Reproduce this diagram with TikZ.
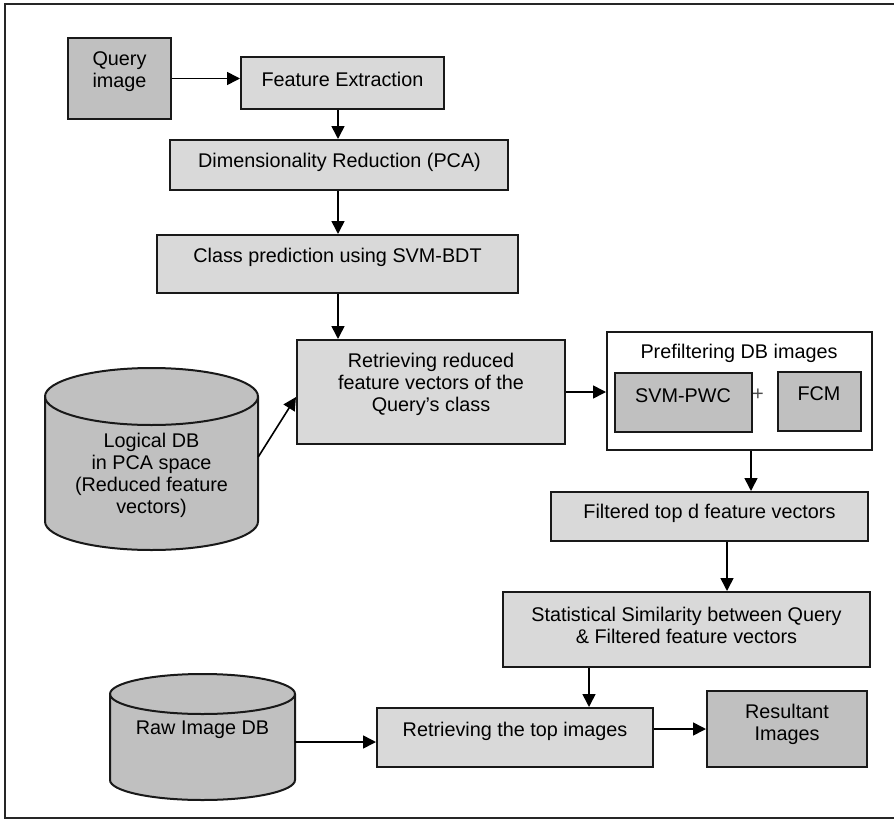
\documentclass[tikz,border=0pt]{standalone}
\usepackage{fontspec}
\setmainfont{Liberation Sans}
\usetikzlibrary{arrows.meta}
\definecolor{darkfill}{HTML}{C0C0C0}
\definecolor{lightfill}{HTML}{D9D9D9}
\begin{document}
\begin{tikzpicture}[x=1pt,y=-1pt,
  box/.style={draw=black!90, line width=2pt, inner sep=0pt, rectangle},
  lightbox/.style={box, fill=lightfill},
  darkbox/.style={box, fill=darkfill},
  whitebox/.style={box, fill=white},
  dbarea/.style={inner sep=0pt, rectangle},
  txt/.style={inner sep=0pt, align=center, font=\fontsize{19.8}{22}\selectfont},
  conn/.style={line width=1.6pt, -{Triangle[length=13pt,width=13pt]}},
  cyl/.style={draw=black!90, line width=2pt, fill=darkfill}
]
\useasboundingbox (0,0) rectangle (894,819);
\draw[line width=2pt, black!85] (5,4) rectangle (905,818);

% boxes
\node[darkbox, minimum width=103pt, minimum height=81pt] (query) at (119.5,78.5) {};
\node[lightbox, minimum width=203pt, minimum height=52pt] (fe) at (342.5,83) {};
\node[lightbox, minimum width=338pt, minimum height=50pt] (dr) at (339,165) {};
\node[lightbox, minimum width=361pt, minimum height=58pt] (cp) at (337.5,264) {};
\node[lightbox, minimum width=268pt, minimum height=104pt] (retr) at (431,392) {};
\node[whitebox, minimum width=265pt, minimum height=118pt] (pre) at (739.5,391) {};
\node[darkbox, minimum width=137pt, minimum height=59pt] (svm) at (683.5,402.5) {};
\node[darkbox, minimum width=83pt, minimum height=59pt] (fcm) at (819.5,401.5) {};
\node[lightbox, minimum width=317pt, minimum height=49pt] (filt) at (709.5,516.5) {};
\node[lightbox, minimum width=367pt, minimum height=75pt] (stat) at (686.5,629.5) {};
\node[lightbox, minimum width=276pt, minimum height=59pt] (rtop) at (515,737.5) {};
\node[darkbox, minimum width=160pt, minimum height=76pt] (res) at (787,729) {};

% database areas
\node[dbarea, minimum width=213pt, minimum height=182pt] (ldb) at (151.5,459) {};
\node[dbarea, minimum width=185pt, minimum height=126pt] (rawdb) at (202.5,737) {};

% cylinders
\filldraw[cyl] (45,396.5) -- (45,521.5) arc[start angle=180,end angle=360,x radius=106.5pt,y radius=28.5pt]
  -- (258,396.5) arc[start angle=0,end angle=180,x radius=106.5pt,y radius=28.5pt] -- cycle;
\draw[cyl, fill=none] (45,396.5) arc[start angle=180,end angle=360,x radius=106.5pt,y radius=28.5pt];
\filldraw[cyl] (110,694) -- (110,780) arc[start angle=180,end angle=360,x radius=92.5pt,y radius=20pt]
  -- (295,694) arc[start angle=0,end angle=180,x radius=92.5pt,y radius=20pt] -- cycle;
\draw[cyl, fill=none] (110,694) arc[start angle=180,end angle=360,x radius=92.5pt,y radius=20pt];

% texts
\node[txt] (tquery) at (119.5,71.5) {Query\\image};
\node[txt] (tfe) at (342.5,79) {Feature Extraction};
\node[txt] (tdr) at (339.5,162) {Dimensionality Reduction (PCA)};
\node[txt] (tcp) at (337.5,257) {Class prediction using SVM-BDT};
\node[txt] (tretr) at (431,384.5) {Retrieving reduced\\feature vectors of the\\Query’s class};
\node[txt] (tpre) at (739,353) {Prefiltering DB images};
\node[txt] (tsvm) at (683,396) {SVM-PWC};
\node[txt] (tfcm) at (819,394) {FCM};
\node[txt, font=\fontsize{20}{22}\selectfont\color{black!70}] (tplus) at (758,395) {+};
\node[txt] (tfilt) at (709.5,513) {Filtered top d feature vectors};
\node[txt] (tstat) at (686.5,625.5) {Statistical Similarity between Query\\\& Filtered feature vectors};
\node[txt] (trtop) at (515,731) {Retrieving the top images};
\node[txt] (tres) at (787,724) {Resultant\\Images};
\node[txt] (traw) at (202.5,730) {Raw Image DB};
\node[txt] (tldb) at (151.5,475.5) {Logical DB\\in PCA space\\(Reduced feature\\vectors)};

% x references
\coordinate (xa) at (338,0);
\coordinate (xb) at (751,0);
\coordinate (xc) at (727,0);
\coordinate (xd) at (589,0);

% connectors
\draw[conn] (query.east) -- (query.east -| fe.west);
\draw[conn] (fe.south -| xa) -- (dr.north -| xa);
\draw[conn] (dr.south -| xa) -- (cp.north -| xa);
\draw[conn] (cp.south -| xa) -- (retr.north -| xa);
\draw[conn] ([yshift=2pt]ldb.east) -- ([yshift=-5pt]retr.west);
\draw[conn] (retr.east) -- (retr.east -| pre.west);
\draw[conn] (pre.south -| xb) -- (filt.north -| xb);
\draw[conn] (filt.south -| xc) -- (stat.north -| xc);
\draw[conn] (stat.south -| xd) -- (rtop.north -| xd);
\draw[conn] ([yshift=-5pt]rawdb.east) -- ([yshift=-5pt]rawdb.east -| rtop.west);
\draw[conn] (rtop.east |- res.west) -- (res.west);
\end{tikzpicture}
\end{document}
